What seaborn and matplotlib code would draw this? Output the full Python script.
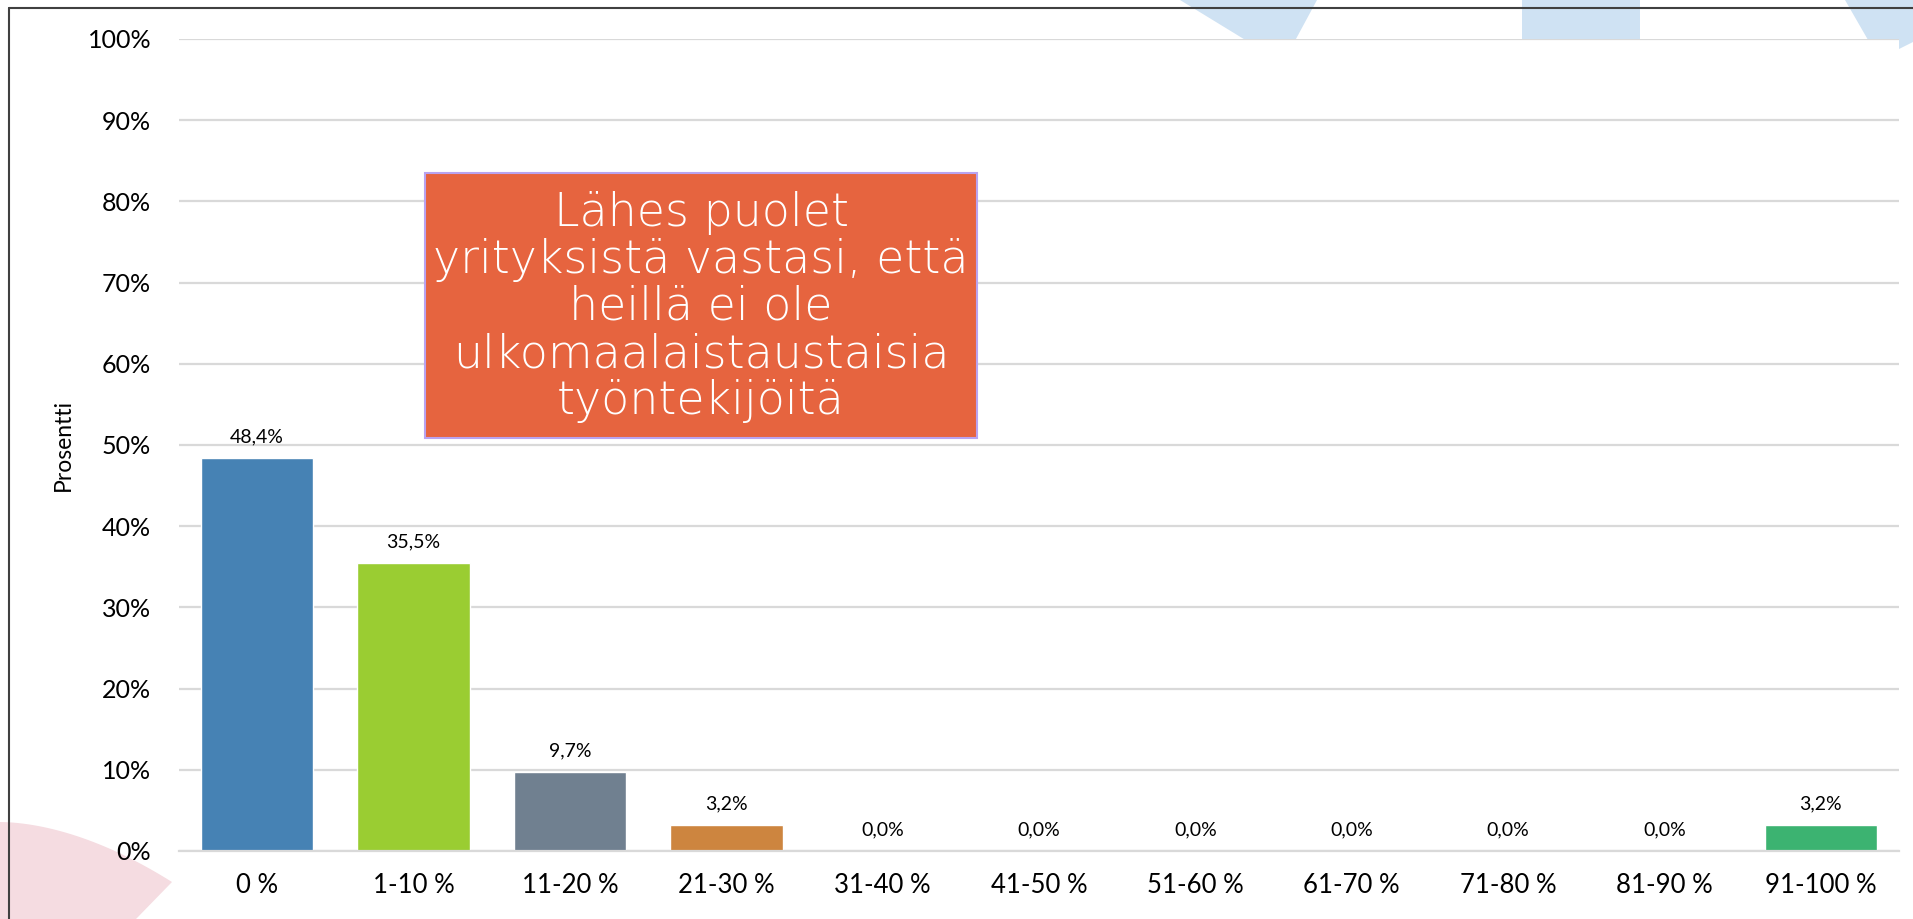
import numpy as np
import pandas as pd
import seaborn as sns
import matplotlib.pyplot as plt
from matplotlib.patches import Polygon, Rectangle
from matplotlib.lines import Line2D

# Data
categories = ["0 %", "1-10 %", "11-20 %", "21-30 %", "31-40 %", "41-50 %",
              "51-60 %", "61-70 %", "71-80 %", "81-90 %", "91-100 %"]
percent = [48.4, 35.5, 9.7, 3.2, 0.0, 0.0, 0.0, 0.0, 0.0, 0.0, 3.2]
bar_colors = ["#4682B4", "#9ACD32", "#708090", "#CD853F", "#4682B4", "#4682B4",
              "#4682B4", "#4682B4", "#4682B4", "#4682B4", "#3CB371"]
yticks = [0, 10, 20, 30, 40, 50, 60, 70, 80, 90, 100]
note = "Lähes puolet\nyrityksistä vastasi, että\nheillä ei ole\nulkomaalaistaustaisia\ntyöntekijöitä"

df = pd.DataFrame({"kategoria": categories, "prosentti": percent})

sns.set_theme(style="white")
plt.rcParams["font.family"] = ["Lato", "DejaVu Sans"]

W, H = 1913, 919
fig = plt.figure(figsize=(W / 100, H / 100), dpi=100)

# background slide decorations (pixel coordinates, y down)
bg = fig.add_axes([0, 0, 1, 1], zorder=0)
bg.set_xlim(0, W)
bg.set_ylim(H, 0)
bg.axis("off")
blue = "#CFE2F3"
pink = "#F5DCE1"
bg.add_patch(Polygon([(1180, 0), (1283, 63), (1317, 0)], closed=True, color=blue, lw=0))
bg.add_patch(Rectangle((1522, 0), 118, 60, color=blue, lw=0))
bg.add_patch(Polygon([(1845, 0), (1879, 59), (1913, 42), (1913, 0)], closed=True, color=blue, lw=0))
arc_x = np.linspace(0, 172, 30)
arc_y = 822 + 60 * (arc_x / 172) ** 1.8
pts = list(zip(arc_x, arc_y)) + [(136, 919), (0, 919)]
bg.add_patch(Polygon(pts, closed=True, color=pink, lw=0))

# main chart
ax = fig.add_axes([179 / W, 1 - 851 / H, (1899 - 179) / W, (851 - 39) / H], zorder=1)
ax.set_facecolor("white")
sns.barplot(data=df, x="kategoria", y="prosentti", hue="kategoria",
            palette=bar_colors, width=0.72, saturation=1, legend=False, ax=ax)

for cont in ax.containers:
    ax.bar_label(cont, labels=[f"{v:.1f}%".replace(".", ",") for v in cont.datavalues],
                 padding=9, fontsize=14, color="black")

ax.set_ylim(0, 100)
ax.set_xlim(-0.5, len(categories) - 0.5)
ax.set_yticks(yticks)
ax.set_yticklabels([f"{t}%" for t in yticks])
ax.yaxis.grid(True, color="#D9D9D9", lw=1.6)
ax.set_axisbelow(True)
for s in ["top", "right", "left"]:
    ax.spines[s].set_visible(False)
ax.spines["bottom"].set_color("#D9D9D9")
ax.spines["bottom"].set_linewidth(1.6)
ax.tick_params(axis="y", length=0, pad=20, labelsize=18, labelcolor="black")
ax.tick_params(axis="x", length=0, pad=16, labelsize=18.5, labelcolor="black")
ax.set_xlabel("")
ax.set_ylabel("Prosentti", fontsize=16.5, color="black", labelpad=10)

# callout box (pixel box 425..977 x 173..438)
bx0, bx1, by0, by1 = 425, 977, 173, 438
ax.add_patch(Rectangle(((bx0 - 179) / 1720, (851 - by1) / 812),
                       (bx1 - bx0) / 1720, (by1 - by0) / 812, transform=ax.transAxes,
                       facecolor="#E6643F", edgecolor="#B9A3F0", lw=1.5, zorder=4))
ax.text(((bx0 + bx1) / 2 - 179) / 1720, (851 - 307) / 812, note, transform=ax.transAxes,
        ha="center", va="center", fontsize=33, color="white", family="DejaVu Sans",
        fontweight="light", linespacing=1.09, zorder=5)

# slide frame lines
fig.add_artist(Line2D([9 / W, 1], [1 - 7.5 / H, 1 - 7.5 / H], color="#404040", lw=1.5, zorder=3))
fig.add_artist(Line2D([9 / W, 9 / W], [0, 1 - 7.5 / H], color="#404040", lw=1.5, zorder=3))

fig.savefig("out.png", dpi=100)
